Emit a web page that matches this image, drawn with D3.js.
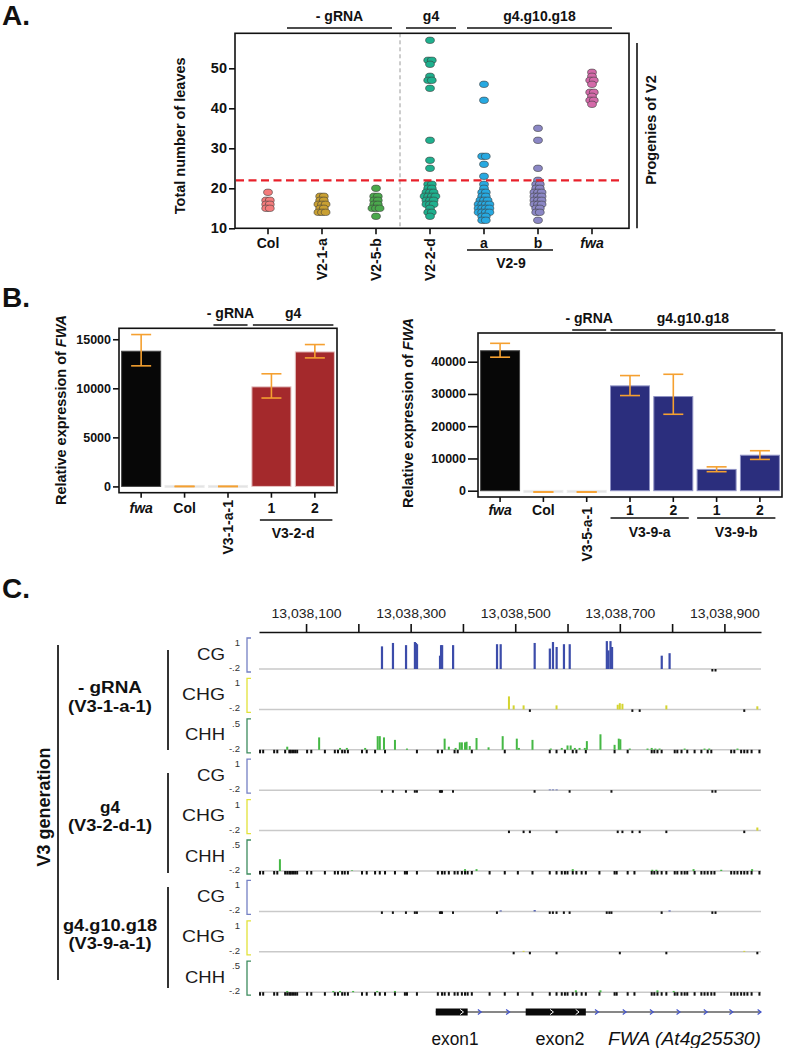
<!DOCTYPE html>
<html><head><meta charset="utf-8">
<script src="https://cdn.jsdelivr.net/npm/d3@7"></script>
<style>body{margin:0;background:#fff}svg{display:block}</style>
</head><body>
<svg id="c" width="786" height="1048"></svg>
<script>
// ---------------- DATA ----------------
// Panel A: total number of leaves
const leafCategories = ["Col","V2-1-a","V2-5-b","V2-2-d","a","b","fwa"];
const leavesCol  = [19,17,17,16,16,15,15];
const leavesV21a = [18,18,17,17,16,16,16,15,15,14,14,14];
const leavesV25b = [20,18,18,17,17,16,16,15,15,15,13];
const leavesV22d = [57,52,52,51,48,47,47,45,32,27,25,21,21,20,20,19,19,19,18,18,18,18,17,17,17,16,16,16,15,14,14,13];
const leavesV29a = [46,42,28,28,26,23,21,20,19,19,18,18,17,17,17,16,16,16,16,15,15,15,15,14,14,14,14,13,13,12,12];
const leavesV29b = [35,32,25,22,21,21,20,20,19,19,19,18,18,18,17,17,17,16,16,16,15,15,14,14,12];
const leavesFwa  = [49,48,47,47,46,44,44,43,42,42,41];
const leafThreshold = 22;
const leafTicks = [10,20,30,40,50];

// Panel B left: relative FWA expression
const exprLeftKeys   = ["fwa","Col","V3-1-a-1","1","2"];
const exprLeftLabels = ["fwa","Col","V3-1-a-1","1","2"];
const exprLeftMean   = [13780, 0, 0, 10150, 13710];
const exprLeftLow    = [12290, 0, 0, 9010, 13100];
const exprLeftHigh   = [15480, 0, 0, 11480, 14460];
const exprLeftTicks  = [0,5000,10000,15000];

// Panel B right
const exprRightKeys   = ["fwa","Col","V3-5-a-1","a1","a2","b1","b2"];
const exprRightLabels = ["fwa","Col","V3-5-a-1","1","2","1","2"];
const exprRightMean   = [43400, -400, -400, 32500, 29200, 6600, 11000];
const exprRightLow    = [41400, -400, -400, 29500, 23700, 5900, 9700];
const exprRightHigh   = [45700, -400, -400, 35700, 36100, 7400, 12400];
const exprRightTicks  = [0,10000,20000,30000,40000];

// Panel C: methylation tracks (positions are offsets from regionStart)
const regionStart = 13038000;
const regionRange = [10, 970];
const coordTicks   = [100,200,300,400,500,600,700,800,900];
const coordLabeled = [100,300,500,700,900];

const chhSites = [12,18,39,45,60,64,68,71,75,79,83,102,110,136,155,161,169,174,180,207,216,232,241,251,270,289,293,312,352,360,365,373,384,390,398,404,409,417,451,480,505,533,566,579,589,595,600,610,617,627,635,661,690,694,715,728,761,766,772,780,789,805,810,818,824,829,843,856,862,868,875,881,913,919,925,932,938,944,952,967];

// -gRNA (V3-1-a-1)
const cgA = [[245,.73],[266,.84],[291,.77],[308,.87],[310,.84],[312,.80],[356,.43],[358,.77],[360,.77],[381,.77],[465,.80],[472,.80],[537,.84],[566,.66],[572,.87],[579,.71],[593,.80],[604,.80],[675,.90],[678,.60],[682,.90],[685,.71],[780,.43],[795,.51]];
const cgAZero = [877,883];
const chgA = [[488,.42],[497,.13],[516,.13],[579,.13],[696,.15],[700,.20],[705,.18],[789,.13],[963,.10]];
const chgAZero = [528,724,738,938];
const chhA = [[64,.05],[125,.20],[165,.03],[178,.03],[213,.03],[237,.22],[241,.22],[249,.20],[270,.16],[293,.02],[365,.18],[373,.05],[386,.03],[394,.12],[398,.12],[404,.12],[407,.13],[413,.06],[426,.19],[449,.04],[476,.22],[503,.18],[507,.03],[533,.16],[568,.02],[589,.03],[600,.07],[606,.07],[614,.03],[623,.03],[633,.03],[637,.14],[663,.25],[690,.08],[698,.18],[701,.17],[719,.02],[753,.02],[761,.03],[768,.02],[776,.02],[824,.02],[862,.02],[871,.02],[925,.02]];
const chhAZero = [12,18,39,45,60,68,71,75,79,83,102,110,136,155,161,169,174,180,207,216,232,251,312,352,360,384,390,417,480,566,579,595,610,617,635,690,715,761,766,772,780,805,810,818,829,843,856,868,875,913,919,932,938,944,952,967];

// g4 (V3-2-d-1)
const cgB = [[566,.02],[572,.02],[579,.02]];
const cgBZero = [245,266,291,308,312,356,358,360,381,537,604,684,877,883];
const chgB = [[963,.10]];
const chgBZero = [488,516,528,579,696,705,724,738,789,938];
const chhB = [[50,.19],[188,.01],[404,.03],[426,.03],[610,.03],[762,.02],[770,.02],[841,.03],[894,.02],[953,.03]];
const chhBZero = chhSites;

// g4.g10.g18 (V3-9-a-1)
const cgC = [[472,.03],[537,.04],[795,.03]];
const cgCZero = [245,266,291,308,312,356,358,360,381,465,566,572,579,593,604,675,680,684,780,877,883];
const chgC = [[516,.03],[938,.03]];
const chgCZero = [497,528,579,700,789,963];
const chhC = [[64,.02],[152,.02],[165,.02],[190,.02],[236,.02],[270,.02],[616,.03],[663,.03],[772,.03],[803,.02]];
const chhCZero = chhSites;

// Gene model (FWA)
const exons = [[348,409],[520,635]];
const geneSpan = [348,970];
const intronArrows = [432,486,656,709,761,812,864,913,967];
const exonArrows = [398,570,619];

// ---------------- DRAWING ----------------
const FONT = '"Liberation Sans", Arial, Helvetica, sans-serif';
const svg = d3.select("#c").attr("font-family", FONT);

function txt(g, s, x, y, o = {}) {
  const t = g.append("text").attr("x", x).attr("y", y)
    .attr("font-size", o.size || 14)
    .attr("font-weight", o.bold ? "bold" : "normal")
    .attr("text-anchor", o.anchor || "start")
    .attr("fill", o.fill || "#111");
  if (o.italic) t.attr("font-style", "italic");
  if (o.len) t.attr("textLength", o.len).attr("lengthAdjust", "spacingAndGlyphs");
  if (o.rotate) t.attr("transform", `rotate(${o.rotate},${x},${y})`);
  t.text(s);
  return t;
}
function line(g, x1, y1, x2, y2, w = 1.5, c = "#111") {
  return g.append("line").attr("x1", x1).attr("y1", y1).attr("x2", x2).attr("y2", y2)
    .attr("stroke", c).attr("stroke-width", w);
}

// Panel letters
[["A.", 25], ["B.", 307], ["C.", 598]].forEach(([s, y]) => txt(svg, s, 2, y, {size: 28, bold: true}));

// ===== Panel A =====
{
  const g = svg.append("g");
  const L = 235, R = 629, T = 33.3, B = 228.3;
  const x = d3.scalePoint().domain(leafCategories).range([268, 592]);
  const y = d3.scaleLinear().domain([10, 58.75]).range([B, T]);
  const leafData = {"Col": leavesCol, "V2-1-a": leavesV21a, "V2-5-b": leavesV25b, "V2-2-d": leavesV22d, "a": leavesV29a, "b": leavesV29b, "fwa": leavesFwa};
  const leafColors = ["#f47c7c", "#c9a032", "#4aa84c", "#1fb08e", "#27a9e1", "#8b87c5", "#d46aa9"];

  const sepX = (x("V2-5-b") + x("V2-2-d")) / 2 - 3;
  line(g, sepX, T, sepX, B, 1, "#9a9a9a").attr("stroke-dasharray", "4,3");

  leafCategories.forEach((c, i) => {
    const vals = leafData[c];
    const counts = d3.rollup(vals, v => v.length, d => d);
    const seen = new Map();
    vals.forEach(v => {
      const n = counts.get(v), k = seen.get(v) || 0;
      seen.set(v, k + 1);
      const dx = (k - (n - 1) / 2) * 3.6;
      g.append("ellipse").attr("cx", x(c) + dx).attr("cy", y(v)).attr("rx", 4.4).attr("ry", 3.2)
        .attr("fill", leafColors[i]).attr("stroke", "#3a3a3a").attr("stroke-width", 0.6);
    });
  });

  line(g, L + 1, y(leafThreshold), R - 8, y(leafThreshold), 2.2, "#e8202a").attr("stroke-dasharray", "8,4.5");

  g.append("rect").attr("x", L).attr("y", T).attr("width", R - L).attr("height", B - T)
    .attr("fill", "none").attr("stroke", "#111").attr("stroke-width", 1.6);

  const ya = g.append("g").attr("transform", `translate(${L},0)`)
    .call(d3.axisLeft(y).tickValues(leafTicks).tickSize(6).tickPadding(2));
  ya.select(".domain").remove();
  ya.selectAll("line").attr("stroke", "#111").attr("stroke-width", 1.6);
  ya.selectAll("text").attr("font-size", 14.5).attr("font-weight", "bold").attr("font-family", FONT).attr("fill", "#111");

  const rotated = {"V2-1-a": true, "V2-5-b": true, "V2-2-d": true};
  leafCategories.forEach(c => {
    line(g, x(c), B, x(c), B + 6, 1.6);
    if (rotated[c]) {
      g.append("text").attr("transform", `translate(${x(c) + 5},${B + 10}) rotate(-90)`)
        .attr("text-anchor", "end").attr("font-size", 14).attr("font-weight", "bold").attr("fill", "#111").text(c);
    } else {
      txt(g, c, x(c), 248, {size: 14, bold: true, anchor: "middle", italic: c === "fwa"});
    }
  });
  line(g, x("a") - 17, 250, x("b") + 15, 250, 1.6);
  txt(g, "V2-9", (x("a") + x("b")) / 2, 268, {size: 14, bold: true, anchor: "middle"});

  const groupsA = [
    {label: "- gRNA", x1: x("V2-1-a") - 35, x2: x("V2-5-b") + 16},
    {label: "g4", x1: x("V2-2-d") - 24, x2: x("V2-2-d") + 26},
    {label: "g4.g10.g18", x1: x("a") - 17, x2: x("fwa") + 20}
  ];
  groupsA.forEach(d => {
    line(g, d.x1, 28, d.x2, 28, 1.6);
    txt(g, d.label, (d.x1 + d.x2) / 2, 21, {size: 14, bold: true, anchor: "middle"});
  });

  txt(g, "Total number of leaves", 185, (T + B) / 2 + 5, {size: 14.5, bold: true, anchor: "middle", rotate: -90});
  line(g, 637, 43, 637, B, 1.6);
  txt(g, "Progenies of V2", 656, 130, {size: 14.5, bold: true, anchor: "middle", rotate: -90});
}

// ===== Panel B =====
function barPanel(cfg) {
  const g = svg.append("g");
  const {keys, mean, low, high, L, R, T, B, domain, ticks, colors, strokes, tickSize} = cfg;
  const x = d3.scaleBand().domain(keys).range([L, R]).paddingInner(0.1).paddingOuter(0.06);
  const y = d3.scaleLinear().domain(domain).range([B, T]);
  const bw = x.bandwidth();

  keys.forEach((k, i) => {
    const v = mean[i];
    let top = y(Math.max(v, 0)), bot = y(Math.min(v, 0));
    if (bot - top < 2) { const m = (top + bot) / 2; top = m - 1; bot = m + 1; }
    g.append("rect").attr("x", x(k)).attr("y", top).attr("width", bw).attr("height", bot - top)
      .attr("fill", colors[i]).attr("stroke", strokes[i]).attr("stroke-width", 1);
  });
  const capW = 20, ec = "#f5a030";
  keys.forEach((k, i) => {
    const cx = x(k) + bw / 2;
    if (high[i] !== low[i]) line(g, cx, y(high[i]), cx, y(low[i]), 1.6, ec);
    line(g, cx - capW / 2, y(high[i]), cx + capW / 2, y(high[i]), 1.6, ec);
    line(g, cx - capW / 2, y(low[i]), cx + capW / 2, y(low[i]), 1.6, ec);
  });
  g.append("rect").attr("x", L).attr("y", T).attr("width", R - L).attr("height", B - T)
    .attr("fill", "none").attr("stroke", "#111").attr("stroke-width", 1.6);
  const ya = g.append("g").attr("transform", `translate(${L},0)`)
    .call(d3.axisLeft(y).tickValues(ticks).tickSize(tickSize).tickPadding(2).tickFormat(d3.format("d")));
  ya.select(".domain").remove();
  ya.selectAll("line").attr("stroke", "#111").attr("stroke-width", 1.6);
  ya.selectAll("text").attr("font-size", 12.5).attr("font-weight", "bold").attr("font-family", FONT).attr("fill", "#111");
  keys.forEach(k => line(g, x(k) + bw / 2, B, x(k) + bw / 2, B + 5, 1.6));
  return {g, x, y, bw};
}

function yTitle(g, xPos, yPos) {
  const t = g.append("text").attr("transform", `translate(${xPos},${yPos}) rotate(-90)`)
    .attr("text-anchor", "middle").attr("font-size", 14.5).attr("font-weight", "bold").attr("fill", "#111");
  t.append("tspan").text("Relative expression of ");
  t.append("tspan").attr("font-style", "italic").text("FWA");
}

{
  const p = barPanel({
    keys: exprLeftKeys, mean: exprLeftMean, low: exprLeftLow, high: exprLeftHigh,
    L: 119, R: 337, T: 328.3, B: 492.7, domain: [-640, 16117], ticks: exprLeftTicks, tickSize: 6,
    colors: ["#070707", "#e2e2e2", "#e2e2e2", "#a4292c", "#a4292c"],
    strokes: ["#444", "#ececec", "#ececec", "#e6c4c4", "#e6c4c4"]
  });
  const {g, x, bw} = p;
  const cx = k => x(k) + bw / 2;
  exprLeftKeys.forEach((k, i) => {
    if (k === "V3-1-a-1") {
      g.append("text").attr("transform", `translate(${cx(k) + 5},500) rotate(-90)`).attr("text-anchor", "end")
        .attr("font-size", 14).attr("font-weight", "bold").attr("fill", "#111").text(exprLeftLabels[i]);
    } else {
      txt(g, exprLeftLabels[i], cx(k), 513, {size: 14, bold: true, anchor: "middle", italic: k === "fwa"});
    }
  });
  line(g, x("1") + 8, 520, x("2") + bw - 2, 520, 1.6);
  txt(g, "V3-2-d", (cx("1") + cx("2")) / 2, 538, {size: 14, bold: true, anchor: "middle"});
  const gr1 = [x("V3-1-a-1") + 5, x("V3-1-a-1") + bw];
  line(g, gr1[0], 325, gr1[1], 325, 1.6);
  txt(g, "- gRNA", (gr1[0] + gr1[1]) / 2, 318, {size: 14, bold: true, anchor: "middle"});
  const gr2 = [x("1") + 1, x("2") + bw - 1];
  line(g, gr2[0], 325, gr2[1], 325, 1.6);
  txt(g, "g4", (gr2[0] + gr2[1]) / 2, 318, {size: 14, bold: true, anchor: "middle"});
  yTitle(g, 66, 410);
}
{
  const navy = "#2b2e7d", navyS = "#8f92c4";
  const p = barPanel({
    keys: exprRightKeys, mean: exprRightMean, low: exprRightLow, high: exprRightHigh,
    L: 478, R: 782, T: 333, B: 497, domain: [-1950, 48900], ticks: exprRightTicks, tickSize: 10,
    colors: ["#070707", "#e2e2e2", "#e2e2e2", navy, navy, navy, navy],
    strokes: ["#444", "#ececec", "#ececec", navyS, navyS, navyS, navyS]
  });
  const {g, x, bw} = p;
  const cx = k => x(k) + bw / 2;
  exprRightKeys.forEach((k, i) => {
    if (k === "V3-5-a-1") {
      g.append("text").attr("transform", `translate(${cx(k) + 5},507) rotate(-90)`).attr("text-anchor", "end")
        .attr("font-size", 14).attr("font-weight", "bold").attr("fill", "#111").text(exprRightLabels[i]);
    } else {
      txt(g, exprRightLabels[i], cx(k), 515, {size: 14, bold: true, anchor: "middle", italic: k === "fwa"});
    }
  });
  [["a1", "a2", "V3-9-a"], ["b1", "b2", "V3-9-b"]].forEach(([a, b, lab]) => {
    line(g, x(a), 518, x(b) + bw - 4, 518, 1.6);
    txt(g, lab, (x(a) + x(b) + bw - 4) / 2, 537, {size: 14, bold: true, anchor: "middle"});
  });
  const gr1 = [x("V3-5-a-1") + 5, x("V3-5-a-1") + bw];
  line(g, gr1[0], 330, gr1[1], 330, 1.6);
  txt(g, "- gRNA", (gr1[0] + gr1[1]) / 2, 323, {size: 14, bold: true, anchor: "middle"});
  const gr2 = [x("a1"), x("b2") + bw - 4];
  line(g, gr2[0], 330, gr2[1], 330, 1.6);
  txt(g, "g4.g10.g18", (gr2[0] + gr2[1]) / 2, 323, {size: 14, bold: true, anchor: "middle"});
  yTitle(g, 413, 413);
}

// ===== Panel C =====
{
  const g = svg.append("g");
  const gx = d3.scaleLinear().domain([regionStart + regionRange[0], regionStart + regionRange[1]]).range([259, 761]);

  const axG = g.append("g").attr("transform", "translate(0,632)")
    .call(d3.axisTop(gx).tickValues(coordTicks.map(d => regionStart + d)).tickSize(8).tickSizeOuter(0).tickPadding(6)
      .tickFormat(d => coordLabeled.includes(d - regionStart) ? d3.format(",")(d) : ""));
  axG.select(".domain").attr("stroke", "#111").attr("stroke-width", 1.6);
  axG.selectAll("line").attr("stroke", "#111").attr("stroke-width", 1.6);
  axG.selectAll("text").attr("font-size", 12.5).attr("font-family", FONT).attr("fill", "#222")
    .each(function () { if (this.textContent) d3.select(this).attr("textLength", 70).attr("lengthAdjust", "spacingAndGlyphs"); });

  const ctxStyle = {
    CG: {bar: "#3c4caa", br: "#7480c4", max: 1, maxLab: "1", len: 28},
    CHG: {bar: "#d4d430", br: "#e2e23a", max: 1, maxLab: "1", len: 43},
    CHH: {bar: "#45b845", br: "#3d8c5e", max: 0.5, maxLab: ".5", len: 40}
  };
  const tracks = [
    ["CG", cgA, cgAZero], ["CHG", chgA, chgAZero], ["CHH", chhA, chhAZero],
    ["CG", cgB, cgBZero], ["CHG", chgB, chgBZero], ["CHH", chhB, chhBZero],
    ["CG", cgC, cgCZero], ["CHG", chgC, chgCZero], ["CHH", chhC, chhCZero]
  ];
  tracks.forEach(([ctx, vals, zeros], i) => {
    const st = ctxStyle[ctx];
    const top = 638 + i * 40.4, bot = top + 34, base = top + 31;
    const ty = d3.scaleLinear().domain([0, st.max]).range([base, top]);
    txt(g, ctx, 225, top + 21.5, {size: 16, anchor: "end", len: st.len, fill: "#1a1a1a"});
    txt(g, st.maxLab, 240, top + 8, {size: 9.5, anchor: "end", fill: "#333"});
    txt(g, "-.2", 240, top + 33, {size: 9.5, anchor: "end", fill: "#333"});
    g.append("path").attr("d", `M251,${top}H247V${bot}H251`).attr("fill", "none").attr("stroke", st.br).attr("stroke-width", 1.3);
    line(g, 259, base, 761, base, 1.5, "#c9c9c9");
    g.selectAll(null).data(zeros).join("rect")
      .attr("x", d => gx(regionStart + d) - 1).attr("y", base).attr("width", 2).attr("height", ctx === "CHH" ? 3.5 : 2.5)
      .attr("fill", "#111");
    g.selectAll(null).data(vals).join("rect")
      .attr("x", d => gx(regionStart + d[0]) - 1).attr("y", d => ty(d[1]))
      .attr("width", ctx === "CG" ? 2.2 : 2).attr("height", d => base - ty(d[1]))
      .attr("fill", st.bar);
  });

  line(g, 58, 645, 58, 980, 2, "#333");
  txt(g, "V3 generation", 50, 807, {size: 18, bold: true, anchor: "middle", rotate: -90});
  [[650, 750], [773, 873], [887, 988]].forEach(([a, b]) => line(g, 168, a, 168, b, 2, "#333"));
  const grp = [
    ["- gRNA", 64, 693, "(V3-1-a-1)", 84, 712],
    ["g4", 20, 813, "(V3-2-d-1)", 84, 831],
    ["g4.g10.g18", 94, 931, "(V3-9-a-1)", 83, 949]
  ];
  grp.forEach(([a, la, ya, b, lb, yb]) => {
    txt(g, a, 110, ya, {size: 16, bold: true, anchor: "middle", len: la});
    txt(g, b, 110, yb, {size: 16, bold: true, anchor: "middle", len: lb});
  });

  const gy = 1012;
  line(g, gx(regionStart + geneSpan[0]), gy, gx(regionStart + geneSpan[1]), gy, 1.2, "#111");
  exons.forEach(([s, e]) => g.append("rect").attr("x", gx(regionStart + s)).attr("y", gy - 3.5)
    .attr("width", gx(regionStart + e) - gx(regionStart + s)).attr("height", 7).attr("fill", "#0a0a0a"));
  const chevron = "M-1.8,-2.6L1.6,0L-1.8,2.6";
  intronArrows.forEach(p => g.append("path").attr("d", chevron).attr("transform", `translate(${gx(regionStart + p)},${gy})`)
    .attr("fill", "none").attr("stroke", "#4455cc").attr("stroke-width", 1.2));
  exonArrows.forEach(p => g.append("path").attr("d", chevron).attr("transform", `translate(${gx(regionStart + p)},${gy})`)
    .attr("fill", "none").attr("stroke", "#fff").attr("stroke-width", 1));
  txt(g, "exon1", 455, 1045, {size: 17.5, anchor: "middle", len: 47});
  txt(g, "exon2", 560, 1045, {size: 17.5, anchor: "middle", len: 49});
  txt(g, "FWA (At4g25530)", 761, 1045, {size: 17.5, anchor: "end", italic: true, len: 153});
}
</script>
</body></html>
